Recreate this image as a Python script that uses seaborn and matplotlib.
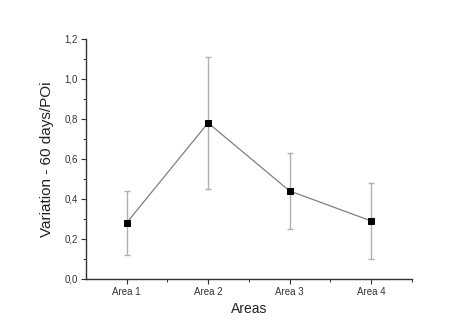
import matplotlib
matplotlib.use("Agg")
import matplotlib.pyplot as plt
import seaborn as sns
import numpy as np
import pandas as pd
from matplotlib.ticker import MultipleLocator, FuncFormatter, FixedLocator

areas = ["Area 1", "Area 2", "Area 3", "Area 4"]
means = [0.28, 0.78, 0.44, 0.29]
lower = [0.12, 0.45, 0.25, 0.10]
upper = [0.44, 1.11, 0.63, 0.48]

sns.set_style("ticks")
plt.rcParams['font.family'] = ['Liberation Sans', 'DejaVu Sans']

df = pd.DataFrame({"x": np.arange(len(areas)), "y": means})

fig = plt.figure(figsize=(4.74, 3.24), dpi=100)
ax = fig.add_axes([0.181, 0.139, 0.688, 0.741])

yerr = [np.array(means) - np.array(lower), np.array(upper) - np.array(means)]
ax.errorbar(df["x"], df["y"], yerr=yerr, fmt="none", ecolor="#b0b0b0",
            elinewidth=1.0, capsize=2, capthick=1.0, zorder=1)
sns.lineplot(data=df, x="x", y="y", ax=ax, color="#808080", linewidth=0.9,
             marker="s", markersize=4.2, markerfacecolor="black",
             markeredgecolor="black", zorder=3)

ax.set_xlim(-0.5, 3.5)
ax.set_ylim(0, 1.2)
ax.xaxis.set_major_locator(FixedLocator(range(len(areas))))
ax.set_xticklabels(areas)
ax.xaxis.set_minor_locator(FixedLocator([0.5, 1.5, 2.5, 3.5]))
ax.yaxis.set_major_locator(MultipleLocator(0.2))
ax.yaxis.set_minor_locator(MultipleLocator(0.1))
ax.yaxis.set_major_formatter(FuncFormatter(lambda v, p: f"{v:.1f}".replace(".", ",")))

ax.tick_params(axis="both", which="major", direction="out", length=3.5, width=0.8,
               labelsize=7, colors="#333333", pad=2)
ax.tick_params(axis="both", which="minor", direction="out", length=2, width=0.7, colors="#333333")

for s in ["top", "right"]:
    ax.spines[s].set_visible(False)
for s in ["left", "bottom"]:
    ax.spines[s].set_linewidth(1.0)
    ax.spines[s].set_color("#333333")

ax.set_xlabel("Areas", fontsize=10, color="#222222", labelpad=4)
ax.set_ylabel("Variation - 60 days/POi", fontsize=11, color="#222222", labelpad=8)

fig.savefig("out.png", dpi=100)
